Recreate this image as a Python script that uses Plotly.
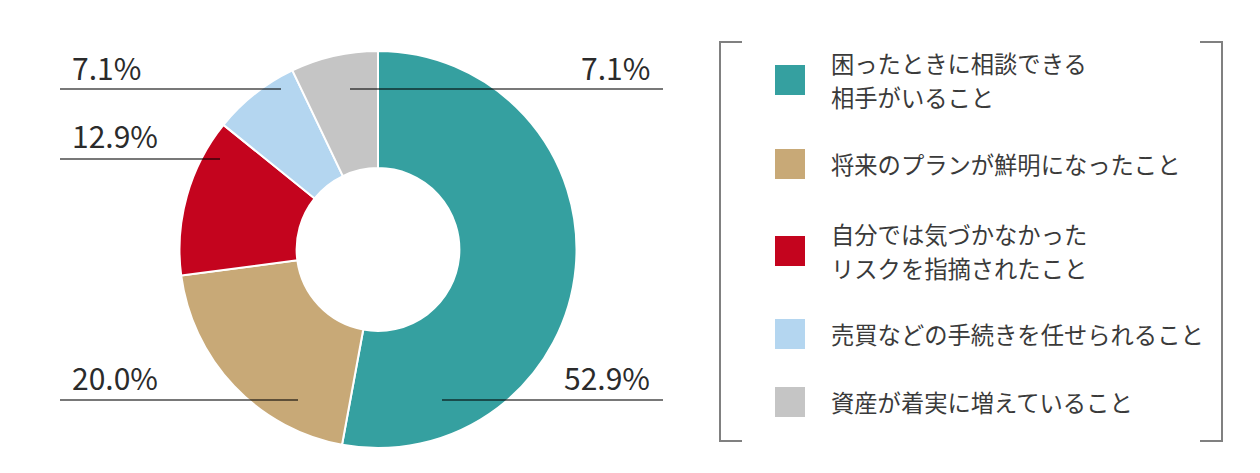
"""
ドーナツチャート（アドバイザーを利用してよかったこと）
"""

import plotly.graph_objects as go

W, H = 1260, 473
OFFSET = 8  # ページ余白ぶんの補正

# データ
labels = [
    "困ったときに相談できる\n相手がいること",
    "将来のプランが鮮明になったこと",
    "自分では気づかなかった\nリスクを指摘されたこと",
    "売買などの手続きを任せられること",
    "資産が着実に増えていること",
]
values = [52.9, 20.0, 12.9, 7.1, 7.1]
colors = ["#35A0A0", "#C8A977", "#C4041E", "#B4D6F0", "#C5C5C5"]

FONT = "Noto Sans CJK JP"
TEXT_COLOR = "#2B2B2B"

# レイアウト位置（px）
# パーセンテージラベル: (テキストx, アンカー, テキストy, 線の左端, 線の右端, 線のy)
pct_pos = [
    (652, "right", 377, 442, 663, 400),
    (70, "left", 377, 60, 298, 400),
    (70, "left", 135, 60, 220, 159),
    (70, "left", 67, 60, 281, 89),
    (652, "right", 67, 350, 663, 89),
]
legend_y = [80, 164, 251, 334, 402]


def px(x):
    return (x - OFFSET) / W


def py(y):
    return 1 - (y - OFFSET) / H


fig = go.Figure(go.Pie(
    labels=[l.replace("\n", "") for l in labels],
    values=values,
    marker=dict(colors=colors, line=dict(color="white", width=2)),
    hole=0.41,
    sort=False,
    direction="clockwise",
    rotation=0,
    textinfo="none",
    hoverinfo="label+percent",
    domain=dict(x=[px(178), px(578)], y=[py(448), py(51)]),
    showlegend=False,
))

shapes = []
annotations = []

# パーセンテージラベルと引き出し線
for v, (tx, anchor, ty, x0, x1, ly) in zip(values, pct_pos):
    annotations.append(dict(
        x=px(tx), y=py(ty), xref="paper", yref="paper",
        text=f"{v:.1f}%", showarrow=False,
        xanchor=anchor, yanchor="middle",
        font=dict(family=FONT, size=30, color=TEXT_COLOR),
    ))
    shapes.append(dict(
        type="line", xref="paper", yref="paper",
        x0=px(x0), x1=px(x1), y0=py(ly), y1=py(ly),
        line=dict(color="rgba(0,0,0,0.53)", width=2),
        layer="above",
    ))

# 凡例（ブラケット枠）
bracket = dict(color="#808080", width=2)
for pts in [
    [(742, 42), (720, 42), (720, 441), (742, 441)],
    [(1200, 42), (1222, 42), (1222, 441), (1200, 441)],
]:
    path = "M " + " L ".join(f"{px(x)},{py(y)}" for x, y in pts)
    shapes.append(dict(type="path", xref="paper", yref="paper",
                       path=path, line=bracket))

for lab, col, cy in zip(labels, colors, legend_y):
    shapes.append(dict(
        type="rect", xref="paper", yref="paper",
        x0=px(775), x1=px(805), y0=py(cy + 15), y1=py(cy - 15),
        fillcolor=col, line=dict(width=0),
    ))
    lines = lab.split("\n")
    gap = 34
    start = cy - gap * (len(lines) - 1) / 2
    for i, line in enumerate(lines):
        annotations.append(dict(
            x=px(829), y=py(start + i * gap), xref="paper", yref="paper",
            text=line, showarrow=False,
            xanchor="left", yanchor="middle",
            font=dict(family=FONT, size=23.3, color="#3A3A3A"),
        ))

fig.update_layout(
    width=W, height=H,
    margin=dict(l=0, r=0, t=0, b=0),
    paper_bgcolor="white",
    plot_bgcolor="white",
    shapes=shapes,
    annotations=annotations,
)

fig.write_html("out.html")
